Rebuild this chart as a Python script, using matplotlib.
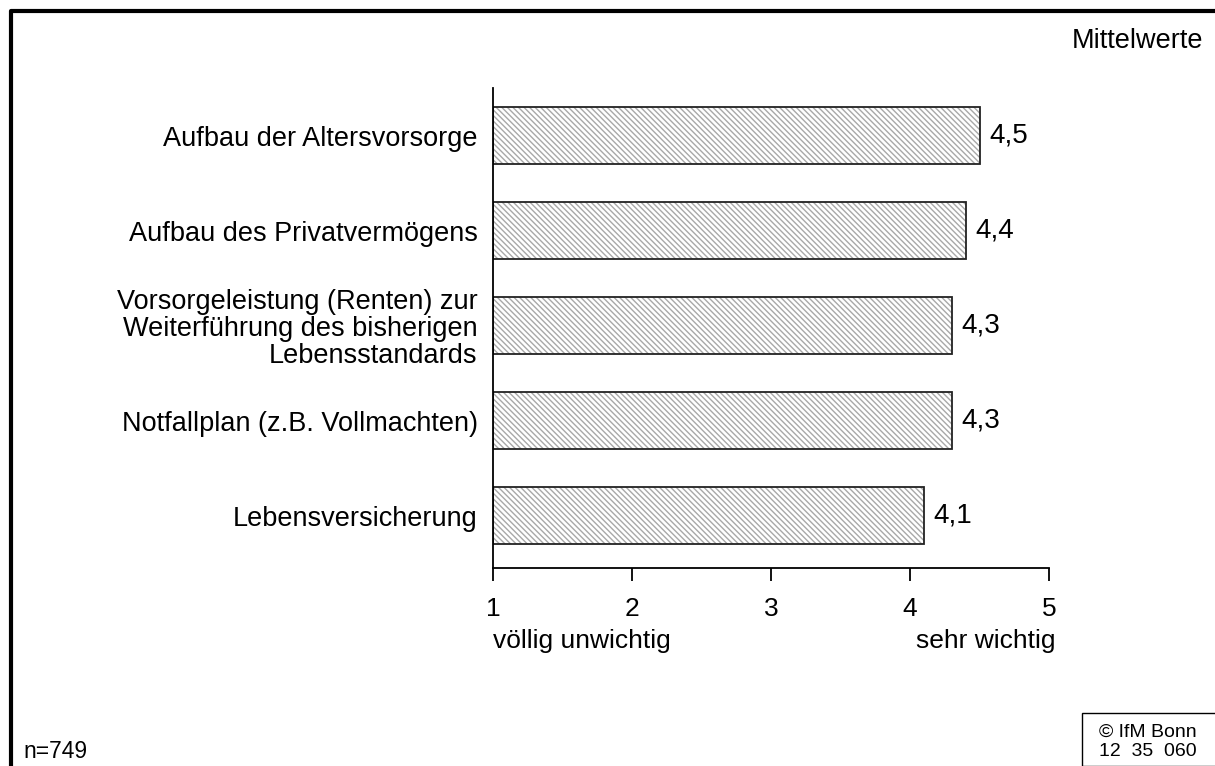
import matplotlib.pyplot as plt
from matplotlib.patches import Rectangle
from matplotlib.lines import Line2D

plt.rcParams['font.family'] = ['Liberation Sans', 'DejaVu Sans']
plt.rcParams['hatch.linewidth'] = 1.0

kategorien = ["Aufbau der Altersvorsorge",
              "Aufbau des Privatvermögens",
              "Vorsorgeleistung (Renten) zur\nWeiterführung des bisherigen\nLebensstandards",
              "Notfallplan (z.B. Vollmachten)",
              "Lebensversicherung"]
werte = [4.5, 4.4, 4.3, 4.3, 4.1]
ticks = [1, 2, 3, 4, 5]

fig = plt.figure(figsize=(12.15, 7.66), dpi=100)
ax = fig.add_axes([493/1215, 1-568/766, (1049-493)/1215, (568-88)/766])

pos = list(range(len(werte)))
breite = [w - 1 for w in werte]
# graue Schraffur, danach schwarzer Rand
ax.barh(pos, breite, left=1, height=0.6, color='white', edgecolor='#a8a8a8',
        linewidth=0, hatch='\\' * 6)
ax.barh(pos, breite, left=1, height=0.6, fill=False, edgecolor='#222222',
        linewidth=1.3)
for p, w in zip(pos, werte):
    ax.text(w + 0.07, p, str(w).replace('.', ','), va='center', ha='left', fontsize=20)

ax.set_xlim(1, 5)
ax.set_ylim(4.55, -0.5)
ax.set_yticks(pos)
ax.set_yticklabels(kategorien, fontsize=19.5, linespacing=1.04, ha='right')
ax.tick_params(axis='y', length=0, pad=11)
ax.set_xticks(ticks)
ax.set_xticklabels([str(t) for t in ticks], fontsize=19)
ax.tick_params(axis='x', direction='out', length=9, width=1.3, pad=12)
for s in ['top', 'right']:
    ax.spines[s].set_visible(False)
ax.spines['left'].set_linewidth(1.3)
ax.spines['bottom'].set_linewidth(1.3)

fig.text(493/1215, 1-641/766, "völlig unwichtig", fontsize=19, ha='left', va='center')
fig.text(1056/1215, 1-641/766, "sehr wichtig", fontsize=19, ha='right', va='center')
fig.text(1203/1215, 1-41/766, "Mittelwerte", fontsize=19.5, ha='right', va='center')
fig.text(23/1215, 1-752/766, "n=749", fontsize=16.5, ha='left', va='center')

# Rahmen links/oben
fig.add_artist(Line2D([11/1215, 11/1215, 1.0], [0.0, 1-11/766, 1-11/766],
                      transform=fig.transFigure, color='black', linewidth=3))
# Kasten unten rechts
fig.add_artist(Rectangle((1082/1215, 0), (1216-1082)/1215, (766-713)/766,
                         transform=fig.transFigure, fill=False, edgecolor='black', linewidth=1))
fig.text(1148/1215, 1-732/766, "© IfM Bonn", fontsize=14, ha='center', va='center')
fig.text(1148/1215, 1-752/766, "12  35  060", fontsize=14, ha='center', va='center')

fig.savefig('out.png', dpi=100)
